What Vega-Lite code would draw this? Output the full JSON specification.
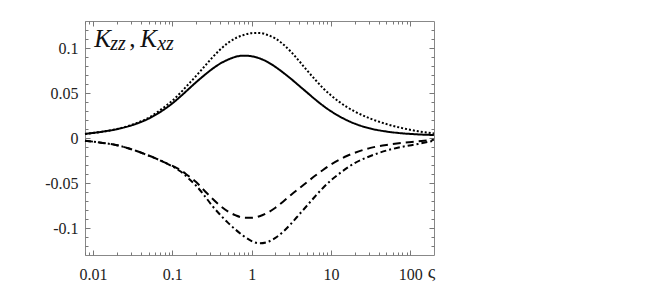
{
  "$schema": "https://vega.github.io/schema/vega-lite/v6.json",
  "autosize": {"type": "none"},
  "padding": {"left": 85, "top": 21, "right": 220, "bottom": 33},
  "width": 349,
  "height": 234,
  "background": "white",
  "config": {
    "view": {"stroke": "#888888", "strokeWidth": 1},
    "axis": {"domain": false, "grid": false, "tickColor": "#777777", "labelFont": "Liberation Serif", "labelFontSize": 16, "labelColor": "#222222", "title": null}
  },
  "datasets": {
    "curves": [
      {"x": 0.0079, "s": "Kzz1", "k": 0.0045}, {"x": 0.01259, "s": "Kzz1", "k": 0.0068}, {"x": 0.01995, "s": "Kzz1", "k": 0.0098}, {"x": 0.03162, "s": "Kzz1", "k": 0.0145}, {"x": 0.05012, "s": "Kzz1", "k": 0.0215}, {"x": 0.07943, "s": "Kzz1", "k": 0.032}, {"x": 0.1, "s": "Kzz1", "k": 0.0385}, {"x": 0.1259, "s": "Kzz1", "k": 0.046}, {"x": 0.1585, "s": "Kzz1", "k": 0.054}, {"x": 0.1995, "s": "Kzz1", "k": 0.062}, {"x": 0.2512, "s": "Kzz1", "k": 0.0695}, {"x": 0.3162, "s": "Kzz1", "k": 0.0765}, {"x": 0.3981, "s": "Kzz1", "k": 0.0825}, {"x": 0.5012, "s": "Kzz1", "k": 0.087}, {"x": 0.631, "s": "Kzz1", "k": 0.0903}, {"x": 0.7943, "s": "Kzz1", "k": 0.0915}, {"x": 1, "s": "Kzz1", "k": 0.0908}, {"x": 1.259, "s": "Kzz1", "k": 0.0885}, {"x": 1.585, "s": "Kzz1", "k": 0.0845}, {"x": 1.995, "s": "Kzz1", "k": 0.079}, {"x": 2.512, "s": "Kzz1", "k": 0.0725}, {"x": 3.162, "s": "Kzz1", "k": 0.0655}, {"x": 3.981, "s": "Kzz1", "k": 0.058}, {"x": 5.012, "s": "Kzz1", "k": 0.0505}, {"x": 6.31, "s": "Kzz1", "k": 0.043}, {"x": 7.943, "s": "Kzz1", "k": 0.036}, {"x": 10, "s": "Kzz1", "k": 0.0298}, {"x": 12.59, "s": "Kzz1", "k": 0.0245}, {"x": 15.85, "s": "Kzz1", "k": 0.0198}, {"x": 19.95, "s": "Kzz1", "k": 0.016}, {"x": 31.62, "s": "Kzz1", "k": 0.0105}, {"x": 50.12, "s": "Kzz1", "k": 0.0072}, {"x": 79.43, "s": "Kzz1", "k": 0.0052}, {"x": 125.9, "s": "Kzz1", "k": 0.004}, {"x": 199.5, "s": "Kzz1", "k": 0.0033},
      {"x": 0.0079, "s": "Kzz2", "k": 0.0045}, {"x": 0.01259, "s": "Kzz2", "k": 0.0068}, {"x": 0.01995, "s": "Kzz2", "k": 0.0099}, {"x": 0.03162, "s": "Kzz2", "k": 0.015}, {"x": 0.05012, "s": "Kzz2", "k": 0.0225}, {"x": 0.07943, "s": "Kzz2", "k": 0.0345}, {"x": 0.1, "s": "Kzz2", "k": 0.0415}, {"x": 0.1259, "s": "Kzz2", "k": 0.05}, {"x": 0.1585, "s": "Kzz2", "k": 0.0595}, {"x": 0.1995, "s": "Kzz2", "k": 0.069}, {"x": 0.2512, "s": "Kzz2", "k": 0.079}, {"x": 0.3162, "s": "Kzz2", "k": 0.089}, {"x": 0.3981, "s": "Kzz2", "k": 0.098}, {"x": 0.5012, "s": "Kzz2", "k": 0.1055}, {"x": 0.631, "s": "Kzz2", "k": 0.111}, {"x": 0.7943, "s": "Kzz2", "k": 0.1145}, {"x": 1, "s": "Kzz2", "k": 0.1165}, {"x": 1.259, "s": "Kzz2", "k": 0.1168}, {"x": 1.585, "s": "Kzz2", "k": 0.1145}, {"x": 1.995, "s": "Kzz2", "k": 0.1105}, {"x": 2.512, "s": "Kzz2", "k": 0.104}, {"x": 3.162, "s": "Kzz2", "k": 0.0955}, {"x": 3.981, "s": "Kzz2", "k": 0.0855}, {"x": 5.012, "s": "Kzz2", "k": 0.075}, {"x": 6.31, "s": "Kzz2", "k": 0.065}, {"x": 7.943, "s": "Kzz2", "k": 0.0555}, {"x": 10, "s": "Kzz2", "k": 0.0475}, {"x": 12.59, "s": "Kzz2", "k": 0.0405}, {"x": 15.85, "s": "Kzz2", "k": 0.0345}, {"x": 19.95, "s": "Kzz2", "k": 0.0295}, {"x": 31.62, "s": "Kzz2", "k": 0.0215}, {"x": 50.12, "s": "Kzz2", "k": 0.0155}, {"x": 79.43, "s": "Kzz2", "k": 0.011}, {"x": 125.9, "s": "Kzz2", "k": 0.0075}, {"x": 199.5, "s": "Kzz2", "k": 0.005},
      {"x": 0.0079, "s": "Kxz1", "k": -0.003}, {"x": 0.01259, "s": "Kxz1", "k": -0.0052}, {"x": 0.01995, "s": "Kxz1", "k": -0.008}, {"x": 0.03162, "s": "Kxz1", "k": -0.013}, {"x": 0.05012, "s": "Kxz1", "k": -0.0195}, {"x": 0.07943, "s": "Kxz1", "k": -0.027}, {"x": 0.1, "s": "Kxz1", "k": -0.031}, {"x": 0.1259, "s": "Kxz1", "k": -0.0355}, {"x": 0.1585, "s": "Kxz1", "k": -0.042}, {"x": 0.1995, "s": "Kxz1", "k": -0.049}, {"x": 0.2512, "s": "Kxz1", "k": -0.058}, {"x": 0.3162, "s": "Kxz1", "k": -0.067}, {"x": 0.3981, "s": "Kxz1", "k": -0.075}, {"x": 0.5012, "s": "Kxz1", "k": -0.0815}, {"x": 0.631, "s": "Kxz1", "k": -0.086}, {"x": 0.7943, "s": "Kxz1", "k": -0.0885}, {"x": 1, "s": "Kxz1", "k": -0.0887}, {"x": 1.259, "s": "Kxz1", "k": -0.087}, {"x": 1.585, "s": "Kxz1", "k": -0.083}, {"x": 1.995, "s": "Kxz1", "k": -0.0775}, {"x": 2.512, "s": "Kxz1", "k": -0.0705}, {"x": 3.162, "s": "Kxz1", "k": -0.063}, {"x": 3.981, "s": "Kxz1", "k": -0.056}, {"x": 5.012, "s": "Kxz1", "k": -0.049}, {"x": 6.31, "s": "Kxz1", "k": -0.042}, {"x": 7.943, "s": "Kxz1", "k": -0.0355}, {"x": 10, "s": "Kxz1", "k": -0.0295}, {"x": 12.59, "s": "Kxz1", "k": -0.0245}, {"x": 15.85, "s": "Kxz1", "k": -0.02}, {"x": 19.95, "s": "Kxz1", "k": -0.0165}, {"x": 31.62, "s": "Kxz1", "k": -0.011}, {"x": 50.12, "s": "Kxz1", "k": -0.0077}, {"x": 79.43, "s": "Kxz1", "k": -0.0055}, {"x": 125.9, "s": "Kxz1", "k": -0.0038}, {"x": 199.5, "s": "Kxz1", "k": -0.002},
      {"x": 0.0079, "s": "Kxz2", "k": -0.003}, {"x": 0.01259, "s": "Kxz2", "k": -0.0052}, {"x": 0.01995, "s": "Kxz2", "k": -0.008}, {"x": 0.03162, "s": "Kxz2", "k": -0.013}, {"x": 0.05012, "s": "Kxz2", "k": -0.0195}, {"x": 0.07943, "s": "Kxz2", "k": -0.027}, {"x": 0.1, "s": "Kxz2", "k": -0.0315}, {"x": 0.1259, "s": "Kxz2", "k": -0.037}, {"x": 0.1585, "s": "Kxz2", "k": -0.0445}, {"x": 0.1995, "s": "Kxz2", "k": -0.053}, {"x": 0.2512, "s": "Kxz2", "k": -0.0635}, {"x": 0.3162, "s": "Kxz2", "k": -0.075}, {"x": 0.3981, "s": "Kxz2", "k": -0.085}, {"x": 0.5012, "s": "Kxz2", "k": -0.094}, {"x": 0.631, "s": "Kxz2", "k": -0.102}, {"x": 0.7943, "s": "Kxz2", "k": -0.109}, {"x": 1, "s": "Kxz2", "k": -0.1145}, {"x": 1.259, "s": "Kxz2", "k": -0.117}, {"x": 1.585, "s": "Kxz2", "k": -0.1155}, {"x": 1.995, "s": "Kxz2", "k": -0.111}, {"x": 2.512, "s": "Kxz2", "k": -0.104}, {"x": 3.162, "s": "Kxz2", "k": -0.095}, {"x": 3.981, "s": "Kxz2", "k": -0.085}, {"x": 5.012, "s": "Kxz2", "k": -0.075}, {"x": 6.31, "s": "Kxz2", "k": -0.065}, {"x": 7.943, "s": "Kxz2", "k": -0.0555}, {"x": 10, "s": "Kxz2", "k": -0.047}, {"x": 12.59, "s": "Kxz2", "k": -0.04}, {"x": 15.85, "s": "Kxz2", "k": -0.0335}, {"x": 19.95, "s": "Kxz2", "k": -0.028}, {"x": 31.62, "s": "Kxz2", "k": -0.02}, {"x": 50.12, "s": "Kxz2", "k": -0.014}, {"x": 79.43, "s": "Kxz2", "k": -0.0098}, {"x": 125.9, "s": "Kxz2", "k": -0.0066}, {"x": 199.5, "s": "Kxz2", "k": -0.003}
    ]
  },
  "layer": [
    {
      "data": {"name": "curves"},
      "mark": {"type": "line", "color": "black", "strokeWidth": 2, "interpolate": "monotone", "strokeCap": "butt"},
      "encoding": {
        "x": {"field": "x", "type": "quantitative",
          "scale": {"type": "log", "domain": [0.0079, 200], "nice": false},
          "axis": {"orient": "bottom", "values": [0.01, 0.1, 1, 10, 100], "tickSize": -5, "labelPadding": 16, "labelExpr": "format(datum.value, '~g')",
            "title": "ς", "titleFont": "Liberation Serif", "titleFontSize": 19, "titleFontWeight": "normal", "titleColor": "#222222", "titleX": 346, "titleY": 22, "titleBaseline": "alphabetic", "titleAlign": "center", "titlePadding": 0}},
        "y": {"field": "k", "type": "quantitative",
          "scale": {"domain": [-0.13, 0.13], "nice": false, "zero": false},
          "axis": {"orient": "left", "values": [-0.1, -0.05, 0, 0.05, 0.1], "tickSize": -5, "labelPadding": 12, "labelExpr": "(datum.value < 0 ? '-' : '') + format(abs(datum.value), '~g')"}},
        "strokeDash": {"field": "s", "type": "nominal",
          "scale": {"domain": ["Kzz1", "Kzz2", "Kxz1", "Kxz2"], "range": [[1, 0], [2, 2], [8, 5], [6, 3, 2, 3]]}, "legend": null}
      }
    },
    {
      "data": {"name": "curves"},
      "mark": {"type": "point", "opacity": 0},
      "encoding": {
        "x": {"field": "x", "type": "quantitative",
          "axis": {"orient": "bottom", "values": [0.008, 0.009, 0.02, 0.03, 0.04, 0.05, 0.06, 0.07, 0.08, 0.09, 0.2, 0.3, 0.4, 0.5, 0.6, 0.7, 0.8, 0.9, 2, 3, 4, 5, 6, 7, 8, 9, 20, 30, 40, 50, 60, 70, 80, 90], "tickSize": -3, "labels": false}},
        "y": {"field": "k", "type": "quantitative",
          "axis": {"orient": "left", "values": [-0.12, -0.11, -0.09, -0.08, -0.07, -0.06, -0.04, -0.03, -0.02, -0.01, 0.01, 0.02, 0.03, 0.04, 0.06, 0.07, 0.08, 0.09, 0.11, 0.12], "tickSize": -3, "labels": false}}
      }
    },
    {
      "data": {"name": "curves"},
      "mark": {"type": "point", "opacity": 0},
      "encoding": {
        "x": {"field": "x", "type": "quantitative",
          "axis": {"orient": "top", "values": [0.01, 0.1, 1, 10, 100], "tickSize": -5, "labels": false}},
        "y": {"field": "k", "type": "quantitative",
          "axis": {"orient": "right", "values": [-0.1, -0.05, 0, 0.05, 0.1], "tickSize": -5, "labels": false}}
      }
    },
    {
      "data": {"name": "curves"},
      "mark": {"type": "point", "opacity": 0},
      "encoding": {
        "x": {"field": "x", "type": "quantitative",
          "axis": {"orient": "top", "values": [0.008, 0.009, 0.02, 0.03, 0.04, 0.05, 0.06, 0.07, 0.08, 0.09, 0.2, 0.3, 0.4, 0.5, 0.6, 0.7, 0.8, 0.9, 2, 3, 4, 5, 6, 7, 8, 9, 20, 30, 40, 50, 60, 70, 80, 90], "tickSize": -3, "labels": false}},
        "y": {"field": "k", "type": "quantitative",
          "axis": {"orient": "right", "values": [-0.12, -0.11, -0.09, -0.08, -0.07, -0.06, -0.04, -0.03, -0.02, -0.01, 0.01, 0.02, 0.03, 0.04, 0.06, 0.07, 0.08, 0.09, 0.11, 0.12], "tickSize": -3, "labels": false}}
      }
    },
    {
      "data": {"values": [{"label": "K"}]},
      "mark": {"type": "text", "font": "Liberation Serif", "fontStyle": "italic", "fontSize": 25, "align": "left", "baseline": "alphabetic", "color": "#111111", "dx": 0},
      "encoding": {"x": {"datum": 0.0103, "type": "quantitative", "axis": null}, "y": {"datum": 0.101, "type": "quantitative", "axis": null}, "text": {"field": "label"}}
    },
    {
      "data": {"values": [{"label": "zz"}]},
      "mark": {"type": "text", "font": "Liberation Serif", "fontStyle": "italic", "fontSize": 20, "align": "left", "baseline": "alphabetic", "color": "#111111", "dx": 16, "dy": 3},
      "encoding": {"x": {"datum": 0.0103, "type": "quantitative", "axis": null}, "y": {"datum": 0.101, "type": "quantitative", "axis": null}, "text": {"field": "label"}}
    },
    {
      "data": {"values": [{"label": ","}]},
      "mark": {"type": "text", "font": "Liberation Serif", "fontSize": 25, "align": "left", "baseline": "alphabetic", "color": "#111111", "dx": 35},
      "encoding": {"x": {"datum": 0.0103, "type": "quantitative", "axis": null}, "y": {"datum": 0.101, "type": "quantitative", "axis": null}, "text": {"field": "label"}}
    },
    {
      "data": {"values": [{"label": "K"}]},
      "mark": {"type": "text", "font": "Liberation Serif", "fontStyle": "italic", "fontSize": 25, "align": "left", "baseline": "alphabetic", "color": "#111111", "dx": 46},
      "encoding": {"x": {"datum": 0.0103, "type": "quantitative", "axis": null}, "y": {"datum": 0.101, "type": "quantitative", "axis": null}, "text": {"field": "label"}}
    },
    {
      "data": {"values": [{"label": "xz"}]},
      "mark": {"type": "text", "font": "Liberation Serif", "fontStyle": "italic", "fontSize": 20, "align": "left", "baseline": "alphabetic", "color": "#111111", "dx": 63, "dy": 3},
      "encoding": {"x": {"datum": 0.0103, "type": "quantitative", "axis": null}, "y": {"datum": 0.101, "type": "quantitative", "axis": null}, "text": {"field": "label"}}
    }
  ],
  "resolve": {"axis": {"x": "independent", "y": "independent"}}
}
